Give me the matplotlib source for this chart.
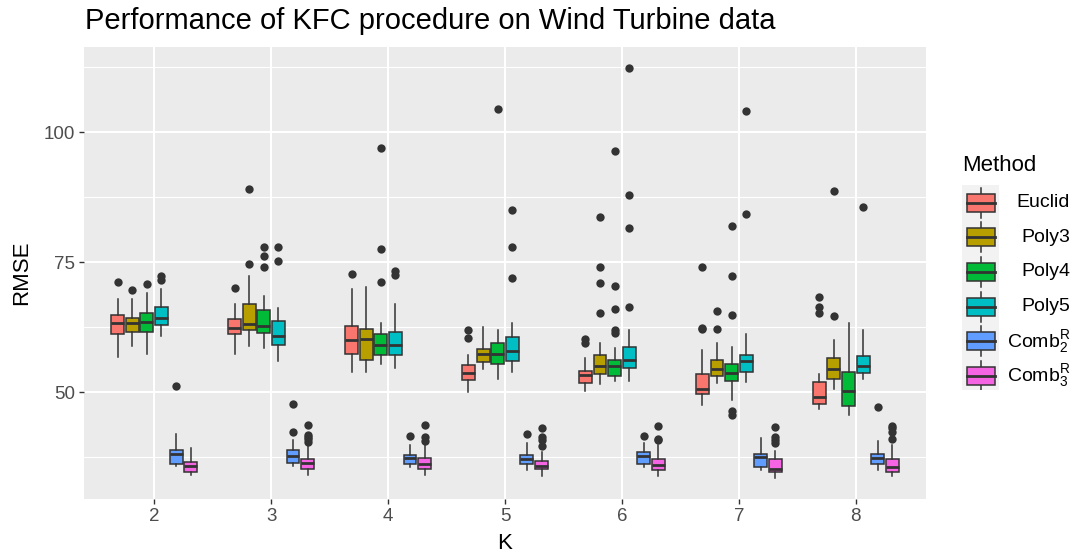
import numpy as np
import matplotlib
matplotlib.use("Agg")
import matplotlib.pyplot as plt
from matplotlib.patches import Rectangle

plt.rcParams['font.family'] = ['Liberation Sans', 'DejaVu Sans']
plt.rcParams['mathtext.default'] = 'regular'

# data, one row per method, one column per K
ks = [2, 3, 4, 5, 6, 7, 8]
methods = ['Euclid', 'Poly3', 'Poly4', 'Poly5', 'Comb$_2^R$', 'Comb$_3^R$']
colors = ['#F8766D', '#B79F00', '#00BA38', '#00BFC4', '#619CFF', '#F564E3']

whisk_lo = [
    [56.8, 57.4, 53.9, 50.0, 50.2, 47.6, 46.8],
    [59.0, 59.0, 53.9, 54.5, 51.7, 51.8, 50.7],
    [57.4, 58.5, 55.5, 52.6, 52.25, 48.5, 45.6],
    [60.8, 56.0, 54.6, 53.9, 52.25, 51.9, 52.6],
    [35.9, 35.9, 35.7, 35.1, 35.7, 35.0, 35.0],
    [34.2, 34.2, 34.2, 33.85, 34.0, 33.5, 33.85],
]
q1 = [
    [61.2, 61.2, 57.4, 52.3, 51.8, 49.7, 47.8],
    [61.7, 61.9, 56.3, 55.8, 53.5, 53.2, 52.6],
    [61.7, 61.5, 57.1, 55.5, 53.2, 52.25, 47.4],
    [62.9, 59.2, 57.25, 56.0, 54.7, 53.9, 53.7],
    [36.2, 36.4, 36.2, 36.2, 36.3, 35.7, 36.3],
    [34.75, 35.3, 35.3, 35.3, 35.0, 34.7, 34.75],
]
median = [
    [63.3, 62.4, 60.1, 53.7, 53.4, 50.7, 49.1],
    [63.3, 63.2, 60.3, 57.4, 55.1, 54.4, 54.5],
    [63.5, 62.7, 59.2, 57.4, 55.1, 53.7, 50.2],
    [64.3, 60.8, 59.2, 58.0, 56.3, 56.0, 55.1],
    [38.2, 37.7, 37.4, 37.25, 37.7, 37.5, 37.4],
    [35.9, 36.4, 36.3, 35.8, 36.0, 35.3, 35.7],
]
q3 = [
    [64.9, 64.1, 62.7, 55.2, 54.2, 53.5, 52.0],
    [64.3, 66.9, 62.1, 58.3, 57.25, 56.3, 56.6],
    [65.3, 65.8, 61.2, 59.5, 56.3, 55.5, 53.9],
    [66.4, 63.8, 61.7, 60.65, 58.7, 57.25, 56.9],
    [38.85, 38.85, 37.9, 37.9, 38.5, 38.2, 38.2],
    [36.7, 37.2, 37.4, 36.9, 37.1, 37.1, 37.1],
]
whisk_hi = [
    [68.0, 67.0, 69.9, 57.1, 56.7, 58.1, 53.5],
    [68.0, 72.4, 70.2, 62.5, 59.5, 59.5, 60.1],
    [69.1, 68.5, 63.3, 61.9, 58.5, 58.7, 63.3],
    [69.9, 66.2, 67.0, 63.3, 61.9, 61.3, 61.9],
    [42.0, 40.9, 39.9, 40.3, 40.3, 41.2, 40.6],
    [39.4, 39.75, 40.3, 38.5, 39.9, 38.8, 39.9],
]
outliers = [
    [[71.3], [70.1], [72.8], [60.5, 61.9], [59.5, 60.3], [62.1, 62.4, 74.1], [65.3, 66.4, 68.3]],
    [[69.6], [74.75, 89.1], [], [], [65.3, 71.0, 74.1, 83.7], [62.1, 65.6], [64.6, 88.8]],
    [[70.9], [74.1, 76.2, 77.9], [71.3, 77.6, 96.9], [104.4], [61.5, 61.9, 66.1, 70.4, 96.5],
     [45.7, 46.35, 64.9, 72.4, 81.9], []],
    [[71.7, 72.3], [75.3, 77.9], [72.6, 73.4], [71.9, 77.9, 85.1], [66.4, 81.6, 88.0, 112.4],
     [84.2, 104.0], [85.6]],
    [[51.2], [42.3, 47.8], [41.7], [42.0], [41.7], [], [47.1]],
    [[], [40.5, 41.0, 41.4, 41.9, 43.7], [40.7, 41.5, 43.7], [39.6, 40.9, 41.5, 43.15],
     [40.9, 41.1, 43.6], [40.2, 40.9, 41.5, 43.4], [41.0, 42.3, 43.15, 43.6]],
]

W, H = 1073, 555
fig = plt.figure(figsize=(W / 100, H / 100), dpi=100)
ax = fig.add_axes([84 / W, 1 - 499 / H, 842 / W, 452 / H])
ax.set_facecolor('#EBEBEB')
edge = '#333333'

n = len(methods)
dodge = 0.75 / n
for m in range(n):
    stats = []
    for j in range(len(ks)):
        stats.append(dict(med=median[m][j], q1=q1[m][j], q3=q3[m][j],
                          whislo=whisk_lo[m][j], whishi=whisk_hi[m][j],
                          fliers=outliers[m][j]))
    pos = np.array(ks) + (m - (n - 1) / 2) * dodge
    ax.bxp(stats, positions=pos, widths=0.11, patch_artist=True, showcaps=False,
           manage_ticks=False,
           boxprops=dict(facecolor=colors[m], edgecolor=edge, linewidth=1.1),
           medianprops=dict(color=edge, linewidth=2.0),
           whiskerprops=dict(color=edge, linewidth=1.1),
           flierprops=dict(marker='o', markerfacecolor=edge, markeredgecolor='none',
                           markersize=6),
           zorder=3)

ax.set_xlim(1.4, 8.6)
ax.set_ylim(29.5, 116.4)
ax.set_xticks(ks)
ax.set_xticklabels([str(k) for k in ks])
ax.set_yticks([50, 75, 100])
ax.set_yticks([37.5, 62.5, 87.5, 112.5], minor=True)
ax.grid(which='major', color='white', linewidth=1.5, zorder=0)
ax.grid(which='minor', axis='y', color='white', linewidth=0.8, zorder=0)
ax.set_axisbelow(True)
for s in ax.spines.values():
    s.set_visible(False)
ax.tick_params(which='major', length=3.5, width=1.0, color=edge, labelsize=13.5,
               labelcolor='#4D4D4D', pad=3)
ax.tick_params(which='minor', length=0)

ax.set_xlabel('K', fontsize=16)
ax.xaxis.set_label_coords(0.5, -0.075)
ax.set_ylabel('RMSE', fontsize=16)
ax.yaxis.set_label_coords(-0.062, 0.5)

fig.text(85 / W, 1 - 29 / H, 'Performance of KFC procedure on Wind Turbine data',
         fontsize=21, va='baseline', ha='left')

# legend
fig.text(962 / W, 1 - 165 / H, 'Method', fontsize=16, va='center', ha='left')
lax = fig.add_axes([962 / W, 1 - 390 / H, 37 / W, 205 / H])
lax.set_xlim(0, 37)
lax.set_ylim(205, 0)
lax.set_facecolor('#F2F2F2')
lax.set_xticks([])
lax.set_yticks([])
for s in lax.spines.values():
    s.set_visible(False)
for i, (lab, c) in enumerate(zip(methods, colors)):
    cy = 17.7 + 34.6 * i
    lax.plot([18.5, 18.5], [cy - 15, cy + 15], color=edge, linewidth=1.1)
    lax.add_patch(Rectangle((5, cy - 9), 28, 18, facecolor=c, edgecolor=edge,
                            linewidth=1.1, zorder=3))
    lax.plot([5, 33], [cy, cy], color=edge, linewidth=2.0, zorder=4)
    fig.text(1070 / W, 1 - (185 + cy) / H, lab, fontsize=14, va='center', ha='right')

fig.savefig('out.png', dpi=100)
